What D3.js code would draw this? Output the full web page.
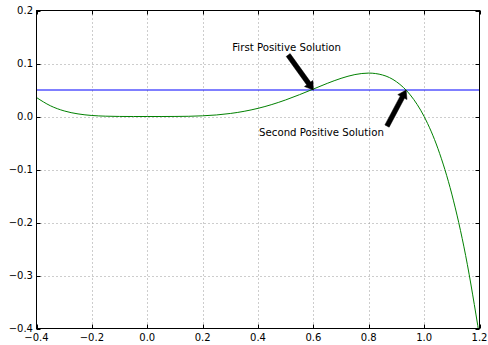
<!DOCTYPE html>
<html>
<head>
<meta charset="utf-8">
<script src="https://cdn.jsdelivr.net/npm/d3@7"></script>
<style>
  html, body { margin: 0; padding: 0; background: #fff; }
  svg { display: block; }
  text { font-family: "DejaVu Sans", sans-serif; }
</style>
</head>
<body>
<svg id="chart" width="488" height="345"></svg>
<script>
// ---- data ----
const curveX = [-0.40,-0.35,-0.30,-0.25,-0.20,-0.15,-0.10,-0.05,0.00,0.05,0.10,0.15,0.20,0.25,0.30,0.35,0.40,0.45,0.50,0.55,0.60,0.65,0.70,0.75,0.80,0.85,0.90,0.95,1.00,1.05,1.10,1.15,1.20];
const curveY = [0.0358,0.0203,0.0105,0.0049,0.0019,0.0006,0.0001,0.0000,0.0000,0.0000,0.0001,0.0004,0.0013,0.0029,0.0057,0.0098,0.0154,0.0226,0.0313,0.0412,0.0518,0.0625,0.0720,0.0791,0.0819,0.0783,0.0656,0.0407,0.0000,-0.0608,-0.1464,-0.2624,-0.4147];
const hLineY = 0.05;
const xTicks = [-0.4,-0.2,0.0,0.2,0.4,0.6,0.8,1.0,1.2];
const yTicks = [-0.4,-0.3,-0.2,-0.1,0.0,0.1,0.2];
const annoText = ["First Positive Solution", "Second Positive Solution"];
const annoTextX = [0.307, 0.404];
const annoTextY = [0.1245, -0.036];
const arrowTailX = [0.509, 0.866];
const arrowTailY = [0.116, -0.018];
const arrowTipX = [0.600, 0.935];
const arrowTipY = [0.050, 0.050];

// ---- layout ----
const svg = d3.select("#chart");
const L = 36.5, R = 479.5, T = 10.5, B = 328.5;
const x = d3.scaleLinear().domain([-0.4, 1.2]).range([L, R]);
const y = d3.scaleLinear().domain([-0.4, 0.2]).range([B, T]);
const fmt = d => d3.format(".1f")(d).replace("-", "\u2212");

svg.append("rect").attr("width", 488).attr("height", 345).attr("fill", "#fff");

svg.append("clipPath").attr("id", "clip")
  .append("rect").attr("x", L).attr("y", T).attr("width", R - L).attr("height", B - T);

// grid
const grid = svg.append("g").attr("stroke", "#9a9a9a").attr("stroke-width", 1).attr("stroke-dasharray", "1,3");
grid.selectAll(".gx").data(xTicks.slice(1, -1)).join("line")
  .attr("x1", d => Math.round(x(d)) + 0.5).attr("x2", d => Math.round(x(d)) + 0.5)
  .attr("y1", T).attr("y2", B);
grid.selectAll(".gy").data(yTicks.slice(1, -1)).join("line")
  .attr("y1", d => Math.round(y(d)) + 0.5).attr("y2", d => Math.round(y(d)) + 0.5)
  .attr("x1", L).attr("x2", R);

// data
const plot = svg.append("g").attr("clip-path", "url(#clip)");
plot.append("line")
  .attr("x1", L).attr("x2", R).attr("y1", y(hLineY)).attr("y2", y(hLineY))
  .attr("stroke", "#0000ff").attr("stroke-width", 1);
const pts = curveX.map((d, i) => [d, curveY[i]]);
plot.append("path").datum(pts)
  .attr("d", d3.line().x(d => x(d[0])).y(d => y(d[1])).curve(d3.curveMonotoneX))
  .attr("fill", "none").attr("stroke", "#008000").attr("stroke-width", 1);

// ticks (inward, all four sides)
const tk = svg.append("g").attr("stroke", "#000").attr("stroke-width", 1);
xTicks.forEach(d => {
  const px = Math.round(x(d)) + 0.5;
  tk.append("line").attr("x1", px).attr("x2", px).attr("y1", B).attr("y2", B - 4);
  tk.append("line").attr("x1", px).attr("x2", px).attr("y1", T).attr("y2", T + 4);
});
yTicks.forEach(d => {
  const py = Math.round(y(d)) + 0.5;
  tk.append("line").attr("y1", py).attr("y2", py).attr("x1", L).attr("x2", L + 4);
  tk.append("line").attr("y1", py).attr("y2", py).attr("x1", R).attr("x2", R - 4);
});

// frame
svg.append("rect").attr("x", L).attr("y", T).attr("width", R - L).attr("height", B - T)
  .attr("fill", "none").attr("stroke", "#000").attr("stroke-width", 1);

// tick labels
svg.append("g").selectAll("text").data(xTicks).join("text")
  .attr("x", d => x(d)).attr("y", 340.5).attr("text-anchor", "middle")
  .attr("font-size", 10).attr("fill", "#000").text(fmt);
svg.append("g").selectAll("text").data(yTicks).join("text")
  .attr("x", 33).attr("y", d => y(d) + 3.6).attr("text-anchor", "end")
  .attr("font-size", 10).attr("fill", "#000").text(fmt);

// annotations
annoText.forEach((t, i) => {
  svg.append("text").attr("x", x(annoTextX[i])).attr("y", y(annoTextY[i]))
    .attr("font-size", 10.2).attr("fill", "#000").text(t);
  const tx = x(arrowTailX[i]), ty = y(arrowTailY[i]);
  const px = x(arrowTipX[i]), py = y(arrowTipY[i]);
  const dx = px - tx, dy = py - ty, len = Math.hypot(dx, dy);
  const ux = dx / len, uy = dy / len, nx = -uy, ny = ux;
  const w = 2.4, hw = 5.2, hl = 8;
  const bx = px - ux * hl, by = py - uy * hl;
  const poly = [
    [tx + nx * w, ty + ny * w],
    [bx + nx * w, by + ny * w],
    [bx + nx * hw, by + ny * hw],
    [px, py],
    [bx - nx * hw, by - ny * hw],
    [bx - nx * w, by - ny * w],
    [tx - nx * w, ty - ny * w]
  ];
  svg.append("polygon").attr("points", poly.map(p => p.join(",")).join(" "))
    .attr("fill", "#000").attr("stroke", "#000").attr("stroke-width", 0.5);
});
</script>
</body>
</html>
